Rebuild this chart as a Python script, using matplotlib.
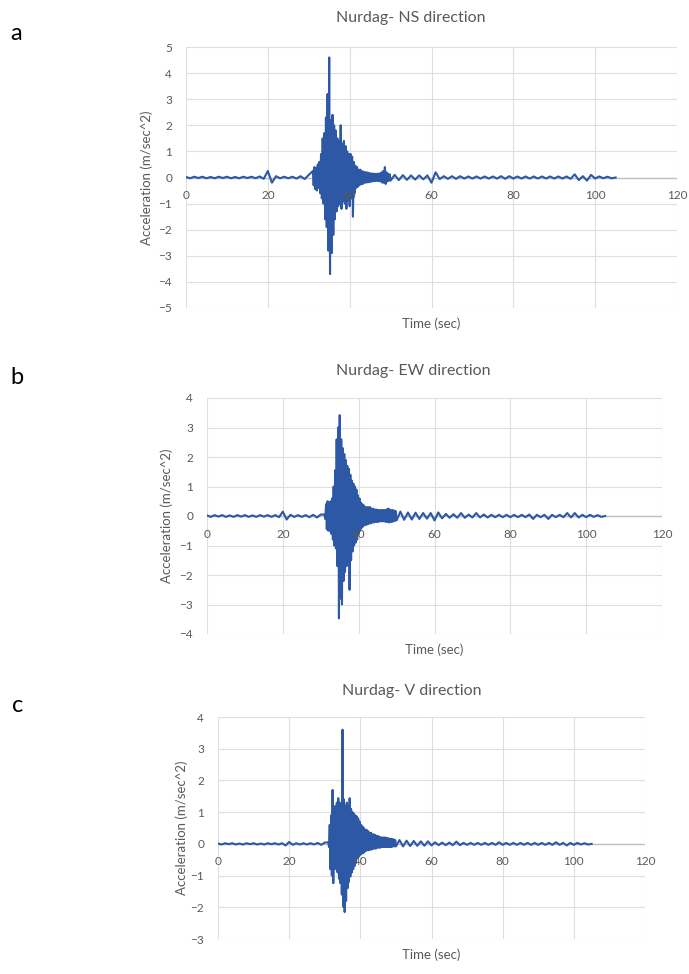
import numpy as np
import matplotlib
matplotlib.use("Agg")
import matplotlib.pyplot as plt

plt.rcParams['font.family'] = ['Lato', 'DejaVu Sans']

W, H = 689, 974

# sample times (s): pre-event, strong motion, coda
pre_t = np.arange(0, 31, 1.0)
main_t = 31.0 + 0.2 * np.arange(96)
tail_t = np.arange(51, 106, 1.0)

# NS component (m/sec^2)
ns_pre = [0.02, -0.03, 0.03, -0.02, 0.03, -0.03, 0.02, -0.03, 0.03, -0.02,
          0.03, -0.03, 0.02, -0.03, 0.03, -0.02, 0.03, -0.03, 0.04, -0.05,
          0.25, -0.2, 0.05, -0.03, 0.03, -0.03, 0.03, -0.04, 0.05, -0.06, 0.1]
ns_main = [0.25, -0.3, 0.4, -0.45, 0.35, -0.5, 0.5, -0.4, 0.6, -0.6,
           0.9, -0.8, 1.5, -1.0, 1.7, -1.6, 2.3, -1.9, 3.2, -2.8,
           4.6, -3.7, 2.2, -2.9, 2.4, -2.2, 2.0, -1.6, 1.8, -1.3,
           1.5, -1.1, 1.4, -1.0, 2.0, -1.2, 1.3, -0.9, 1.4, -1.0,
           1.2, -1.2, 1.0, -0.9, 0.9, -1.1, 0.9, -0.8, 0.8, -1.5,
           0.6, -0.6, 0.45, -0.4, 0.4, -0.35, 0.3, -0.3, 0.3, -0.25,
           0.25, -0.25, 0.22, -0.2, 0.2, -0.2, 0.2, -0.18, 0.18, -0.18,
           0.16, -0.16, 0.15, -0.15, 0.15, -0.14, 0.14, -0.13, 0.14, -0.13,
           0.15, -0.14, 0.15, -0.15, 0.2, -0.2, 0.25, -0.2, 0.4, -0.25,
           0.2, -0.15, 0.14, -0.12, 0.12, -0.12]
ns_tail = [0.1, -0.1, 0.09, -0.09, 0.08, -0.08, 0.08, -0.07, 0.08, -0.2,
           0.2, -0.06, 0.05, -0.05, 0.05, -0.05, 0.05, -0.04, 0.04, -0.04,
           0.04, -0.04, 0.04, -0.04, 0.04, -0.04, 0.05, -0.05, 0.05, -0.04,
           0.04, -0.04, 0.04, -0.04, 0.04, -0.04, 0.04, -0.04, 0.04, -0.04,
           0.04, -0.04, 0.04, -0.05, 0.12, -0.1, 0.05, -0.12, 0.1, -0.04,
           0.04, -0.03, 0.03, -0.03, 0.0]

# EW component
ew_pre = [0.02, -0.03, 0.03, -0.02, 0.03, -0.03, 0.02, -0.03, 0.03, -0.02,
          0.03, -0.03, 0.02, -0.03, 0.03, -0.02, 0.03, -0.03, 0.03, -0.04,
          0.15, -0.12, 0.04, -0.03, 0.03, -0.03, 0.03, -0.04, 0.04, -0.05, 0.05]
ew_main = [0.05, -0.1, 0.4, -0.45, 0.5, -0.5, 0.45, -0.5, 0.5, -0.6,
           0.6, -0.8, 1.0, -1.0, 1.55, -1.1, 2.6, -1.7, 3.0, -3.47,
           3.42, -2.8, 2.6, -3.0, 2.3, -2.2, 2.1, -1.9, 1.9, -1.7,
           1.7, -1.5, 1.6, -2.5, 1.4, -1.5, 1.2, -1.2, 1.1, -1.0,
           1.0, -0.9, 0.9, -0.8, 0.7, -0.6, 0.6, -0.5, 0.45, -0.4,
           0.4, -0.35, 0.35, -0.3, 0.3, -0.3, 0.3, -0.28, 0.3, -0.25,
           0.3, -0.25, 0.25, -0.22, 0.25, -0.22, 0.22, -0.2, 0.22, -0.2,
           0.2, -0.2, 0.2, -0.18, 0.2, -0.18, 0.2, -0.18, 0.2, -0.18,
           0.2, -0.2, 0.22, -0.2, 0.25, -0.22, 0.22, -0.2, 0.2, -0.2,
           0.2, -0.18, 0.18, -0.16, 0.16, -0.15]
ew_tail = [0.15, -0.13, 0.12, -0.12, 0.11, -0.1, 0.1, -0.09, 0.1, -0.15,
           0.12, -0.08, 0.07, -0.06, 0.06, -0.06, 0.1, -0.06, 0.05, -0.05,
           0.1, -0.05, 0.05, -0.05, 0.04, -0.04, 0.04, -0.04, 0.04, -0.04,
           0.04, -0.04, 0.04, -0.04, 0.05, -0.1, 0.04, -0.04, 0.04, -0.1,
           0.04, -0.04, 0.04, -0.04, 0.1, -0.05, 0.1, -0.05, 0.04, -0.04,
           0.04, -0.03, 0.03, -0.03, 0.0]

# V component
v_pre = [0.01, -0.02, 0.02, -0.01, 0.02, -0.02, 0.01, -0.02, 0.02, -0.01,
         0.02, -0.02, 0.01, -0.02, 0.02, -0.01, 0.02, -0.02, 0.02, -0.05,
         0.06, -0.03, 0.02, -0.02, 0.02, -0.02, 0.02, -0.02, 0.03, -0.03, 0.04]
v_main = [0.05, -0.1, 0.6, -0.8, 0.9, -1.0, 1.7, -1.24, 1.0, -0.8,
          1.2, -0.72, 1.3, -0.9, 1.44, -1.1, 1.3, -1.24, 1.2, -1.6,
          3.6, -1.98, 1.4, -2.15, 1.2, -1.8, 1.3, -1.4, 1.2, -1.2,
          1.44, -1.03, 1.1, -0.9, 1.0, -0.8, 0.95, -0.7, 0.9, -0.6,
          0.86, -0.45, 0.8, -0.4, 0.7, -0.35, 0.6, -0.3, 0.55, -0.3,
          0.5, -0.25, 0.45, -0.22, 0.44, -0.2, 0.4, -0.2, 0.35, -0.18,
          0.35, -0.18, 0.3, -0.15, 0.3, -0.15, 0.28, -0.15, 0.25, -0.12,
          0.25, -0.12, 0.22, -0.12, 0.2, -0.1, 0.2, -0.1, 0.2, -0.1,
          0.2, -0.1, 0.18, -0.1, 0.18, -0.1, 0.16, -0.1, 0.15, -0.1,
          0.15, -0.08, 0.14, -0.08, 0.12, -0.08]
v_tail = [0.12, -0.08, 0.1, -0.07, 0.09, -0.06, 0.08, -0.06, 0.08, -0.05,
          0.05, -0.04, 0.04, -0.04, 0.04, -0.04, 0.07, -0.04, 0.03, -0.03,
          0.03, -0.03, 0.03, -0.03, 0.03, -0.03, 0.03, -0.03, 0.05, -0.03,
          0.03, -0.03, 0.03, -0.03, 0.03, -0.03, 0.03, -0.03, 0.03, -0.03,
          0.03, -0.03, 0.03, -0.03, 0.05, -0.03, 0.03, -0.05, 0.03, -0.03,
          0.03, -0.02, 0.02, -0.02, 0.0]

titles = ["Nurdag- NS direction", "Nurdag- EW direction", "Nurdag- V direction"]
letters = ["a", "b", "c"]
series = [(ns_pre, ns_main, ns_tail), (ew_pre, ew_main, ew_tail), (v_pre, v_main, v_tail)]
ylims = [(-5, 5), (-4, 4), (-3, 4)]
xticks = [0, 20, 40, 60, 80, 100, 120]

# layout in pixels: axes box (left, top, right, bottom), title, ylabel x, letter pos
boxes = [(186, 47, 677, 308), (207, 398, 662, 634), (218, 717, 645, 939)]
title_pos = [(411, 18), (413, 371), (412, 691)]
ylab_x = [147, 167, 182]
letter_pos = [(16, 33), (17, 378), (18, 706)]

blue = '#2D58A6'
gray = '#595959'
gridc = '#DEDEDE'

fig = plt.figure(figsize=(W / 100, H / 100), dpi=100)

for k in range(3):
    l, t, r, b = boxes[k]
    ax = fig.add_axes([l / W, 1 - b / H, (r - l) / W, (b - t) / H])
    pre, main, tail = series[k]
    tt = np.concatenate([pre_t, main_t, tail_t])
    aa = np.concatenate([pre, main, tail])
    ax.plot(tt, aa, color=blue, lw=1.5, zorder=2)

    lo, hi = ylims[k]
    yt = list(range(lo, hi + 1))
    for x in xticks:
        ax.axvline(x, color=gridc, lw=0.8, zorder=0)
    for y in yt:
        ax.axhline(y, color=gridc, lw=0.8, zorder=0)
    ax.axhline(0, color='#BFBFBF', lw=1.0, zorder=1)

    ax.set_xlim(0, 120)
    ax.set_ylim(lo, hi)
    ax.set_xticks(xticks)
    ax.set_yticks(yt)
    for s in ax.spines.values():
        s.set_color('none')
    ax.spines['bottom'].set_position(('data', 0))
    ax.tick_params(axis='x', length=0, pad=9, labelsize=8.5, labelcolor=gray)
    ax.tick_params(axis='y', length=0, pad=10, labelsize=8.5, labelcolor=gray)
    ax.set_axisbelow(False)

    ax.annotate("Time (sec)", xy=(0.5, 0), xycoords='axes fraction',
                xytext=(0, -11), textcoords='offset points',
                ha='center', va='center', fontsize=9.5, color=gray)

    tx, ty = title_pos[k]
    fig.text(tx / W, 1 - ty / H, titles[k], ha='center', va='center',
             fontsize=11.5, color=gray)
    fig.text(ylab_x[k] / W, 1 - (t + b) / 2 / H, "Acceleration (m/sec^2)",
             rotation=90, ha='center', va='center', fontsize=9.5, color=gray)
    lx, ly = letter_pos[k]
    fig.text(lx / W, 1 - ly / H, letters[k], ha='center', va='center',
             fontsize=17, color='black')

fig.savefig("out.png", dpi=100)
